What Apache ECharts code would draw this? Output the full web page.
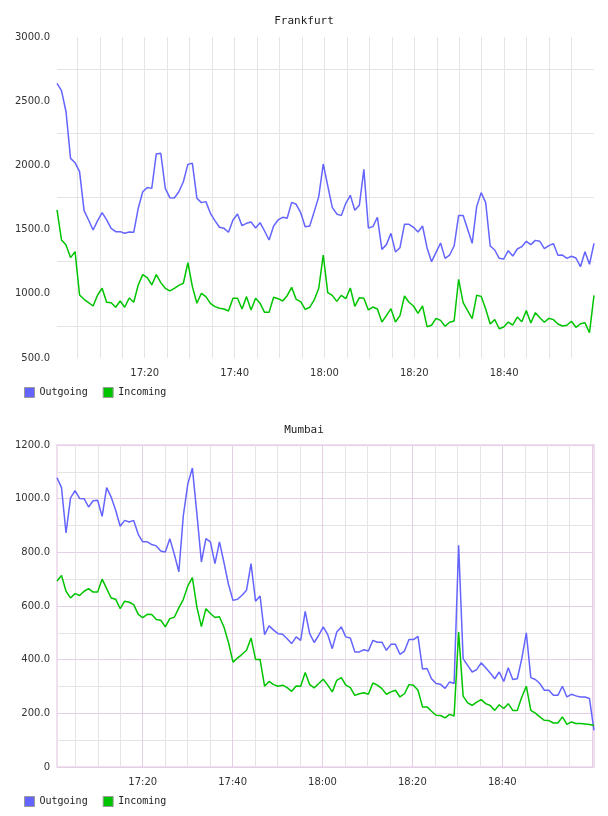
<!DOCTYPE html>
<html lang="en">
<head>
    <meta charset="UTF-8">
    <title>Frankfurt / Mumbai traffic</title>
    <style>
        html, body { margin: 0; padding: 0; background: #fff; }
        #main { width: 608px; height: 816px; }
    </style>
</head>
<body>
<div id="main"></div>
<script src="https://cdn.jsdelivr.net/npm/echarts@6/dist/echarts.min.js"></script>
<script type="text/javascript">
    // minutes after 17:00 of first / last sample
    var ffStart = 0.47, ffEnd = 120;
    var mbStart = 0.93, mbEnd = 120.4;

    var ffOut = [
        2639, 2582, 2418, 2055, 2021, 1951, 1648, 1575, 1497, 1570,
        1632, 1575, 1510, 1484, 1484, 1471, 1481, 1479, 1666, 1795,
        1827, 1821, 2089, 2094, 1821, 1749, 1746, 1795, 1873, 2008,
        2016, 1744, 1710, 1718, 1627, 1570, 1518, 1510, 1479, 1575,
        1622, 1531, 1549, 1559, 1513, 1554, 1489, 1419, 1528, 1575,
        1596, 1588, 1712, 1697, 1632, 1523, 1528, 1640, 1757, 2011,
        1840, 1673, 1622, 1609, 1705, 1767, 1650, 1689, 1969, 1512,
        1523, 1596, 1346, 1383, 1471, 1326, 1359, 1541, 1541, 1518,
        1481, 1528, 1359, 1250, 1323, 1396, 1276, 1302, 1372, 1609,
        1609, 1502, 1393, 1679, 1788, 1710, 1372, 1341, 1276, 1271,
        1336, 1294, 1349, 1367, 1409, 1383, 1416, 1409, 1352, 1375,
        1391, 1300, 1302, 1276, 1292, 1279, 1211, 1328, 1230, 1393
    ];
    var ffIn = [
        1653, 1419, 1380, 1282, 1328, 991, 957, 931, 905, 991,
        1043, 934, 931, 895, 944, 895, 967, 934, 1069, 1149,
        1126, 1069, 1149, 1087, 1043, 1022, 1043, 1066, 1082, 1242,
        1056, 926, 1004, 978, 926, 900, 887, 882, 866, 965,
        965, 882, 978, 874, 965, 926, 856, 856, 973, 962,
        944, 985, 1050, 957, 939, 879, 895, 952, 1043, 1302,
        1009, 988, 941, 988, 962, 1045, 902, 970, 965, 874,
        897, 882, 780, 830, 884, 780, 830, 983, 934, 905,
        848, 905, 744, 755, 809, 793, 747, 778, 788, 1113,
        931, 869, 806, 988, 980, 882, 765, 799, 728, 741,
        780, 757, 819, 783, 869, 773, 853, 814, 778, 809,
        799, 765, 749, 755, 786, 739, 767, 775, 697, 988
    ];

    var mbOut = [
        1078, 1041, 872, 1003, 1030, 1001, 1000, 969, 992, 994,
        934, 1041, 1006, 957, 897, 919, 913, 919, 867, 839,
        839, 829, 824, 805, 801, 851, 793, 727, 938, 1056,
        1114, 944, 764, 851, 839, 758, 839, 762, 681, 621,
        625, 640, 659, 758, 618, 637, 493, 526, 510, 497,
        495, 478, 460, 485, 472, 580, 497, 464, 491, 522,
        493, 441, 503, 522, 485, 481, 429, 429, 437, 432,
        472, 465, 465, 435, 457, 457, 420, 432, 475, 475,
        487, 365, 367, 329, 311, 308, 293, 317, 311, 826,
        404, 379, 354, 363, 388, 370, 350, 329, 354, 319,
        370, 326, 329, 404, 500, 333, 326, 311, 286, 286,
        267, 267, 301, 261, 271, 265, 261, 261, 255, 137
    ];
    var mbIn = [
        693, 714, 655, 630, 646, 639, 655, 665, 652, 652,
        700, 665, 630, 625, 590, 618, 614, 605, 569, 557,
        569, 568, 550, 547, 522, 553, 558, 593, 625, 675,
        706, 596, 523, 590, 572, 557, 560, 522, 464, 391,
        406, 420, 435, 481, 401, 401, 301, 319, 307, 301,
        305, 296, 282, 302, 301, 352, 307, 295, 311, 327,
        305, 280, 323, 333, 305, 296, 267, 273, 277, 271,
        313, 305, 292, 271, 280, 286, 261, 273, 307, 305,
        286, 224, 224, 208, 193, 192, 183, 196, 190, 503,
        264, 239, 230, 242, 251, 236, 229, 211, 232, 218,
        236, 211, 211, 261, 301, 211, 201, 187, 174, 173,
        164, 164, 187, 159, 168, 162, 162, 160, 158, 155
    ];

    var BLUE = '#6464ff', GREEN = '#00c400';
    var GREY = '#e4e4e4', PINK = '#e6cfe6';

    // samples are evenly spaced between first and last
    function withTimes(values, t0, t1) {
        var step = (t1 - t0) / (values.length - 1);
        return values.map(function (v, i) { return [t0 + i * step, v]; });
    }

    function timeLabel(v) {
        var r = Math.round(v);
        if (Math.abs(v - r) > 1e-6 || r % 20 !== 0 || r <= 0 || r >= 120) return '';
        var h = 17 + Math.floor(r / 60), m = r % 60;
        return h + ':' + (m < 10 ? '0' + m : m);
    }

    var labelStyle = { color: '#333', fontFamily: 'DejaVu Sans', fontSize: 10 };

    function xAxis(idx, t0, t1, colors) {
        return {
            type: 'value', gridIndex: idx, min: t0, max: t1,
            minInterval: 5, maxInterval: 5, splitNumber: 24,
            axisLine: { show: false }, axisTick: { show: false },
            axisLabel: Object.assign({ formatter: timeLabel, margin: 10 }, labelStyle),
            splitLine: { show: true, showMinLine: false, showMaxLine: false,
                lineStyle: { color: colors, width: 1 } }
        };
    }

    function yAxis(idx, min, max, step, major, zeroPlain) {
        return {
            type: 'value', gridIndex: idx, min: min, max: max, interval: step,
            axisLine: { show: false }, axisTick: { show: false },
            axisLabel: Object.assign({
                margin: 7,
                formatter: function (v) { return (zeroPlain && v === 0) ? '0' : v.toFixed(1); }
            }, labelStyle),
            splitLine: { show: !!major, lineStyle: { color: major || GREY, width: 1 } },
            minorTick: { show: false, splitNumber: 2 },
            minorSplitLine: { show: true, lineStyle: { color: GREY, width: 1 } }
        };
    }

    function legend(top) {
        return {
            left: 24, top: top, padding: 0, icon: 'rect',
            itemWidth: 10, itemHeight: 10, itemGap: 15, selectedMode: false,
            itemStyle: { borderColor: '#999', borderWidth: 1 },
            textStyle: { fontFamily: 'DejaVu Sans Mono', fontSize: 10, color: '#222' },
            data: ['Outgoing', 'Incoming']
        };
    }

    function title(text, top) {
        return {
            text: text, left: 'center', top: top, padding: 0,
            textStyle: { fontFamily: 'DejaVu Sans Mono', fontSize: 11, fontWeight: 'normal', color: '#222' }
        };
    }

    function line(name, color, data, idx) {
        return {
            name: name, type: 'line', xAxisIndex: idx, yAxisIndex: idx,
            data: data, symbol: 'none', showSymbol: false,
            lineStyle: { color: color, width: 1.5 }, itemStyle: { color: color }
        };
    }

    var chart = echarts.init(document.getElementById('main'));
    chart.setOption({
        animation: false,
        backgroundColor: '#fff',
        title: [title('Frankfurt', 16), title('Mumbai', 425)],
        legend: [legend(387), legend(796)],
        grid: [
            { left: 57, right: 14, top: 37, bottom: 458 },
            { left: 57, right: 14, top: 445, bottom: 49, show: true,
              borderColor: '#efdfef', borderWidth: 2, backgroundColor: 'transparent' }
        ],
        xAxis: [
            xAxis(0, ffStart, ffEnd, GREY),
            xAxis(1, mbStart, mbEnd, [GREY, GREY, GREY, PINK])
        ],
        yAxis: [
            yAxis(0, 500, 3000, 500, null, false),
            yAxis(1, 0, 1200, 200, PINK, true)
        ],
        series: [
            line('Outgoing', BLUE, withTimes(ffOut, ffStart, ffEnd), 0),
            line('Incoming', GREEN, withTimes(ffIn, ffStart, ffEnd), 0),
            line('Outgoing', BLUE, withTimes(mbOut, mbStart, mbEnd), 1),
            line('Incoming', GREEN, withTimes(mbIn, mbStart, mbEnd), 1)
        ]
    });
</script>
</body>
</html>
